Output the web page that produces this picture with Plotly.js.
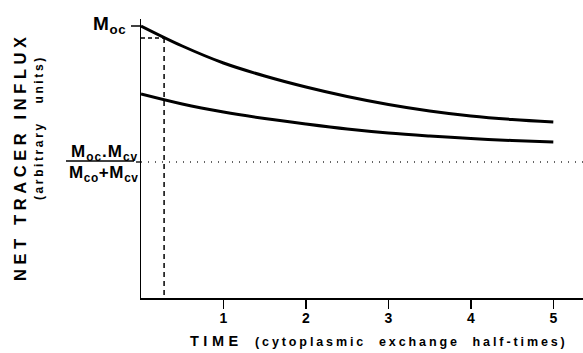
<!DOCTYPE html>
<html>
<head>
<meta charset="utf-8">
<script src="https://cdn.plot.ly/plotly-3.0.1.min.js"></script>
<style>
  html, body { margin: 0; padding: 0; background: #fff; }
  #chart { width: 583px; height: 353px; }
</style>
</head>
<body>
<div id="chart"></div>
<script>
// ---- data ----
const timeHalfTimes = [0, 0.5, 1, 1.5, 2, 2.5, 3, 3.5, 4, 4.5, 5];
const upperInflux   = [272, 252, 235, 222, 211, 201.5, 193.5, 187, 182, 178.5, 176];
const lowerInflux   = [204, 194, 186, 179.5, 174, 169, 165, 162, 159.5, 157.5, 156];
const asymptoteLevel = 136;   // Moc.Mcv/(Mco+Mcv)
const initialLevel   = 272;   // Moc
const markerTime     = 0.28;  // dashed drop line
const markerLevel    = 260;
const xTicks      = [1, 2, 3, 4, 5];
const xTickLabels = ['1', '2', '3', '4', '5'];
const xMax = 5.36;
const yMax = 279;

// ---- geometry helpers (pixel -> paper) ----
const L = 141, T = 19, W = 442, H = 279;
const px = x => (x - L) / W;
const py = y => (T + H - y) / H;

const FONT = 'Liberation Sans, Arial, Helvetica, sans-serif';

const traces = [
  { x: timeHalfTimes, y: upperInflux, mode: 'lines', line: { color: '#000', width: 3, shape: 'spline' }, hoverinfo: 'skip' },
  { x: timeHalfTimes, y: lowerInflux, mode: 'lines', line: { color: '#000', width: 3, shape: 'spline' }, hoverinfo: 'skip' },
  { x: [0, xMax], y: [asymptoteLevel, asymptoteLevel], mode: 'lines', line: { color: '#333', width: 1.3, dash: '1px,6px' }, hoverinfo: 'skip' },
  { x: [0, markerTime], y: [markerLevel, markerLevel], mode: 'lines', line: { color: '#000', width: 1.5, dash: '4px,3px' }, hoverinfo: 'skip' },
  { x: [markerTime, markerTime], y: [markerLevel, 0], mode: 'lines', line: { color: '#000', width: 1.5, dash: '5px,4px' }, hoverinfo: 'skip' }
];

const annotations = [
  { xref: 'paper', yref: 'paper', x: px(20), y: py(156), textangle: -90, showarrow: false,
    xanchor: 'center', yanchor: 'middle',
    text: '<b><span style="letter-spacing:4.6px">NET\u00A0TRACER\u00A0INFLUX</span></b>',
    font: { family: FONT, size: 16.5, color: '#000' } },
  { xref: 'paper', yref: 'paper', x: px(39), y: py(128), textangle: -90, showarrow: false,
    xanchor: 'center', yanchor: 'middle',
    text: '<b><span style="letter-spacing:2.6px">(arbitrary\u00A0\u00A0\u00A0units)</span></b>',
    font: { family: FONT, size: 12, color: '#000' } },
  { xref: 'paper', yref: 'paper', x: px(216), y: py(341), showarrow: false,
    xanchor: 'center', yanchor: 'middle',
    text: '<b><span style="letter-spacing:4.5px">TIME</span></b>',
    font: { family: FONT, size: 14.5, color: '#000' } },
  { xref: 'paper', yref: 'paper', x: px(253), y: py(342), showarrow: false,
    xanchor: 'left', yanchor: 'middle',
    text: '<b><span style="letter-spacing:2.9px">(cytoplasmic\u00A0\u00A0exchange\u00A0\u00A0half-times)</span></b>',
    font: { family: FONT, size: 12.5, color: '#000' } },
  { xref: 'paper', yref: 'paper', x: px(128), y: py(25), showarrow: false,
    xanchor: 'right', yanchor: 'middle',
    text: '<b><span style="letter-spacing:0.6px">M<sub>oc</sub></span></b>',
    font: { family: FONT, size: 19, color: '#000' } },
  { xref: 'paper', yref: 'paper', x: px(140), y: py(153), showarrow: false,
    xanchor: 'right', yanchor: 'middle',
    text: '<b><span style="letter-spacing:1px">M<sub>oc</sub>.M<sub>cv</sub></span></b>',
    font: { family: FONT, size: 17, color: '#000' } },
  { xref: 'paper', yref: 'paper', x: px(141), y: py(174), showarrow: false,
    xanchor: 'right', yanchor: 'middle',
    text: '<b><span style="letter-spacing:0.6px">M<sub>co</sub>+M<sub>cv</sub></span></b>',
    font: { family: FONT, size: 17, color: '#000' } }
];

const shapes = [
  // Moc tick on the y axis
  { type: 'line', xref: 'paper', yref: 'y', x0: px(131), x1: 0, y0: initialLevel, y1: initialLevel, line: { color: '#000', width: 1.5 } },
  // small tick at asymptote level
  { type: 'line', xref: 'paper', yref: 'y', x0: px(136), x1: 0, y0: asymptoteLevel, y1: asymptoteLevel, line: { color: '#000', width: 1.3 } },
  // fraction bar
  { type: 'line', xref: 'paper', yref: 'paper', x0: px(66), x1: px(134), y0: py(161), y1: py(161), line: { color: '#000', width: 1.6 } }
];

const layout = {
  width: 583, height: 353,
  margin: { l: L, r: 0, t: T, b: 353 - T - H },
  paper_bgcolor: '#fff', plot_bgcolor: '#fff',
  showlegend: false,
  xaxis: {
    range: [0, xMax], showgrid: false, zeroline: false,
    showline: true, linecolor: '#000', linewidth: 1.5,
    tickmode: 'array', tickvals: xTicks, ticktext: xTickLabels,
    ticks: 'outside', ticklen: 9, tickwidth: 1.5, tickcolor: '#000',
    ticklabelstandoff: -2,
    tickfont: { family: FONT, size: 14, color: '#000', weight: 'bold' }
  },
  yaxis: {
    range: [0, yMax], showgrid: false, zeroline: false,
    showline: true, linecolor: '#000', linewidth: 1.5,
    showticklabels: false, ticks: ''
  },
  annotations: annotations,
  shapes: shapes
};

Plotly.newPlot('chart', traces, layout, { staticPlot: true, displayModeBar: false });
</script>
</body>
</html>
